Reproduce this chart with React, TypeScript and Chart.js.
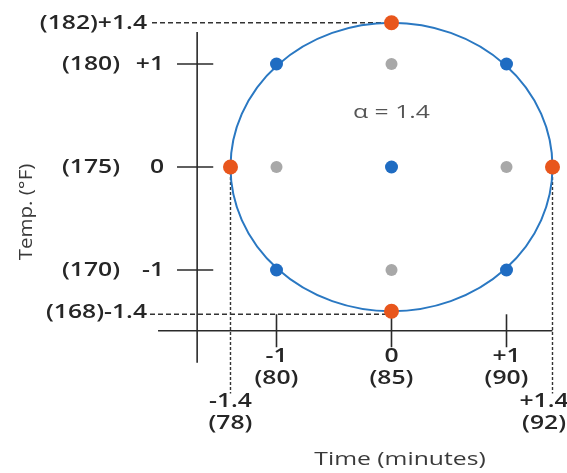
import { useEffect, useRef } from 'react';
import { Chart, registerables } from 'chart.js';

Chart.register(...registerables);

const ALPHA = 1.4;
const ALPHA_LABEL = 'α = 1.4';

// coded design points
const factorialX = [-1, 1, -1, 1];
const factorialY = [1, 1, -1, -1];
const axialX = [0, 0, -ALPHA, ALPHA];
const axialY = [ALPHA, -ALPHA, 0, 0];
const centerX = [0];
const centerY = [0];
const grayX = [-1, 1, 0, 0];
const grayY = [0, 0, 1, -1];

// tick labels
const yTickValues = [1.4, 1, 0, -1, -1.4];
const yCodeLabels = ['+1.4', '+1', '0', '-1', '-1.4'];
const yRealLabels = ['(182)', '(180)', '(175)', '(170)', '(168)'];
const xTickValues = [-1.4, -1, 0, 1, 1.4];
const xCodeLabels = ['-1.4', '-1', '0', '+1', '+1.4'];
const xRealLabels = ['(78)', '(80)', '(85)', '(90)', '(92)'];

const X_TITLE = 'Time (minutes)';
const Y_TITLE = 'Temp. (°F)';

const W = 567;
const H = 473;

const toPts = (xs: number[], ys: number[]) => xs.map((x, i) => ({ x, y: ys[i] }));

const LABEL_FONT = "600 19px 'Open Sans'";
const TITLE_FONT = "400 19px 'Open Sans'";
const SX = 1.3;

function stretchText(ctx: CanvasRenderingContext2D, text: string, x: number, y: number, align: CanvasTextAlign, font: string, color: string, sx = SX) {
  ctx.save();
  ctx.font = font;
  ctx.fillStyle = color;
  ctx.textAlign = align;
  ctx.textBaseline = 'middle';
  ctx.translate(x, y);
  ctx.scale(sx, 1);
  ctx.fillText(text, 0, 0);
  ctx.restore();
}

const decorPlugin = {
  id: 'decor',
  beforeDatasetsDraw(chart: any) {
    const ctx: CanvasRenderingContext2D = chart.ctx;
    const xs = chart.scales.x;
    const ys = chart.scales.y;
    const px = (v: number) => xs.getPixelForValue(v);
    const py = (v: number) => ys.getPixelForValue(v);

    // axes positions (coded units)
    const yAxisAtX = -1.69;
    const xAxisAtY = -1.59;

    ctx.save();
    ctx.strokeStyle = '#2a2a2a';
    ctx.lineWidth = 1.6;
    ctx.setLineDash([]);
    // vertical axis
    ctx.beginPath();
    ctx.moveTo(px(yAxisAtX), py(1.31));
    ctx.lineTo(px(yAxisAtX), py(-1.9));
    ctx.stroke();
    // horizontal axis
    ctx.beginPath();
    ctx.moveTo(px(-2.03), py(xAxisAtY));
    ctx.lineTo(px(ALPHA), py(xAxisAtY));
    ctx.stroke();
    // y ticks
    [1, 0, -1].forEach((v) => {
      ctx.beginPath();
      ctx.moveTo(px(-1.865), py(v));
      ctx.lineTo(px(-1.55), py(v));
      ctx.stroke();
    });
    // x ticks
    [-1, 0, 1].forEach((v) => {
      ctx.beginPath();
      ctx.moveTo(px(v), py(v === 0 ? -ALPHA : -1.43));
      ctx.lineTo(px(v), py(-1.75));
      ctx.stroke();
    });

    // dashed guides
    ctx.strokeStyle = '#333';
    ctx.lineWidth = 1.4;
    ctx.setLineDash([5, 3]);
    ctx.beginPath();
    ctx.moveTo(152, py(ALPHA));
    ctx.lineTo(px(0), py(ALPHA));
    ctx.stroke();
    ctx.beginPath();
    ctx.moveTo(150, py(-1.43));
    ctx.lineTo(px(0), py(-1.43));
    ctx.stroke();
    ctx.setLineDash([3, 2]);
    [-ALPHA, ALPHA].forEach((v) => {
      ctx.beginPath();
      ctx.moveTo(px(v), py(0));
      ctx.lineTo(px(v), py(-2.2));
      ctx.stroke();
    });
    ctx.setLineDash([]);

    // circle of radius alpha
    ctx.strokeStyle = '#2a78c2';
    ctx.lineWidth = 2;
    ctx.beginPath();
    ctx.ellipse(px(0), py(0), Math.abs(px(ALPHA) - px(0)), Math.abs(py(ALPHA) - py(0)), 0, 0, Math.PI * 2);
    ctx.stroke();
    ctx.restore();

    // y labels
    const labelColor = '#262626';
    yTickValues.forEach((v, i) => {
      if (Math.abs(v) === ALPHA) {
        stretchText(ctx, yRealLabels[i] + yCodeLabels[i], 147, py(v) + 1, 'right', LABEL_FONT, labelColor);
      } else {
        stretchText(ctx, yRealLabels[i], 62, py(v) + 1, 'left', LABEL_FONT, labelColor);
        stretchText(ctx, yCodeLabels[i], 164, py(v) + 1, 'right', LABEL_FONT, labelColor);
      }
    });

    // x labels
    ctx.save();
    ctx.font = LABEL_FONT;
    xTickValues.forEach((v, i) => {
      const outer = Math.abs(v) === ALPHA;
      const half = (ctx.measureText(xRealLabels[i]).width * SX) / 2;
      const cx = Math.min(px(v), W - half - 1);
      const y1 = outer ? 402 : 357;
      stretchText(ctx, xCodeLabels[i], cx, y1, 'center', LABEL_FONT, labelColor);
      stretchText(ctx, xRealLabels[i], cx, y1 + 22, 'center', LABEL_FONT, labelColor);
    });
    ctx.restore();

    // titles
    stretchText(ctx, X_TITLE, 400, 460, 'center', TITLE_FONT, '#3a3a3a');
    ctx.save();
    ctx.font = TITLE_FONT;
    ctx.fillStyle = '#3a3a3a';
    ctx.textAlign = 'center';
    ctx.textBaseline = 'middle';
    ctx.translate(27, 212);
    ctx.rotate(-Math.PI / 2);
    ctx.scale(1.08, 1);
    ctx.fillText(Y_TITLE, 0, 0);
    ctx.restore();

    stretchText(ctx, ALPHA_LABEL, px(0), py(0.53), 'center', TITLE_FONT, '#555');
  },
};

export default function App() {
  const ref = useRef<HTMLCanvasElement | null>(null);
  useEffect(() => {
    document.body.style.margin = '0';
    const canvas = ref.current;
    if (!canvas) return;
    const chart = new Chart(canvas, {
      type: 'scatter',
      data: {
        datasets: [
          {
            label: 'gray',
            data: toPts(grayX, grayY),
            pointRadius: 6,
            pointBackgroundColor: '#a8a8a8',
            pointBorderWidth: 0,
            showLine: false,
            clip: false,
          } as any,
          {
            label: 'factorial',
            data: toPts(factorialX, factorialY),
            pointRadius: 6.5,
            pointBackgroundColor: '#1f6cc2',
            pointBorderWidth: 0,
            clip: false,
          } as any,
          {
            label: 'center',
            data: toPts(centerX, centerY),
            pointRadius: 6.5,
            pointBackgroundColor: '#1f6cc2',
            pointBorderWidth: 0,
            clip: false,
          } as any,
          {
            label: 'axial',
            data: toPts(axialX, axialY),
            pointRadius: 7.5,
            pointBackgroundColor: '#e8561c',
            pointBorderWidth: 0,
            clip: false,
          } as any,
        ],
      },
      options: {
        responsive: false,
        animation: false,
        layout: { padding: 0, autoPadding: false },
        scales: {
          x: { type: 'linear', min: -3.4043, max: 1.5261, display: false },
          y: { type: 'linear', min: -2.9709, max: 1.6214, display: false },
        },
        plugins: { legend: { display: false }, tooltip: { enabled: false } },
      },
      plugins: [decorPlugin],
    });
    return () => chart.destroy();
  }, []);
  return <canvas ref={ref} width={W} height={H} style={{ display: 'block' }} />;
}
